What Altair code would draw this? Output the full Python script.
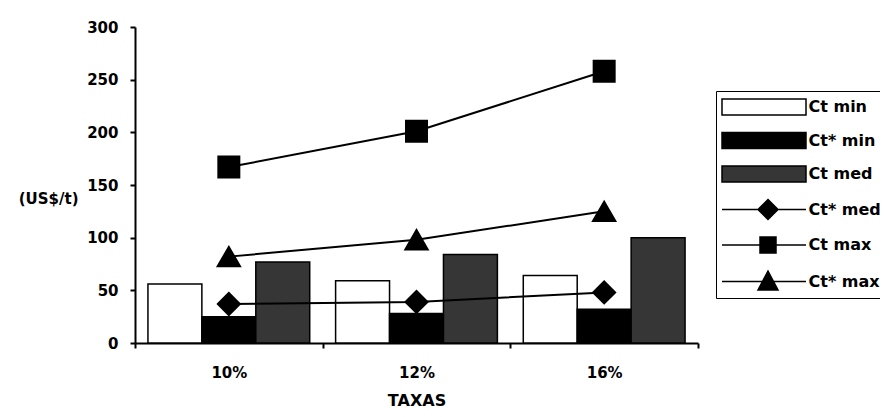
import altair as alt
import pandas as pd

categories = ["10%", "12%", "16%"]
bar_series = ["Ct min", "Ct* min", "Ct med"]
line_series = ["Ct* med", "Ct max", "Ct* max"]

ct_min = [56, 59, 64]
ctx_min = [25, 28, 32]
ct_med = [77, 84, 100]
ctx_med = [37, 39, 48]
ct_max = [167, 201, 258]
ctx_max = [82, 98, 125]

y_ticks = [0, 50, 100, 150, 200, 250, 300]

series_order = bar_series + line_series
fills = ["white", "black", "#363636", "black", "black", "black"]
marker_shapes = ["diamond", "square", "triangle-up"]
marker_sizes = [484, 441, 500]
legend_paths = [
    "M-1,-0.8H7.4V0.8H-1Z",
    "M-1,-0.8H7.4V0.8H-1Z",
    "M-1,-0.8H7.4V0.8H-1Z",
    "M-1,0H7.4M3.6,-1L4.6,0L3.6,1L2.6,0Z",
    "M-1,0H7.4M2.8,-0.8H4.4V0.8H2.8Z",
    "M-1,0H7.4M3.6,-1.05L4.6,0.85H2.6Z",
]

FONT = "DejaVu Sans"

bar_vals = {"Ct min": ct_min, "Ct* min": ctx_min, "Ct med": ct_med}
line_vals = {"Ct* med": ctx_med, "Ct max": ct_max, "Ct* max": ctx_max}

bar_rows = []
for s, vals in bar_vals.items():
    for c, v in zip(categories, vals):
        bar_rows.append({"cat": c, "series": s, "value": v,
                         "fill": fills[series_order.index(s)]})
bar_df = pd.DataFrame(bar_rows)

line_rows = []
for s, vals in line_vals.items():
    for c, v in zip(categories, vals):
        line_rows.append({"cat": c, "series": s, "value": v})
line_df = pd.DataFrame(line_rows)

legend_df = pd.DataFrame({"series": series_order})

x_axis = alt.Axis(
    title="TAXAS", labelAngle=0, tickBand="extent", titleY=57,
    titleBaseline="middle", labelPadding=17, domainColor="black",
    domainWidth=2, tickColor="black", tickWidth=2, tickSize=5,
    labelFont=FONT, labelFontSize=15, labelFontWeight="bold",
    labelColor="black", titleFont=FONT, titleFontSize=16,
    titleFontWeight="bold", titleColor="black", grid=False,
)
y_axis = alt.Axis(
    values=y_ticks, title="(US$/t)", titleAngle=0, titleAlign="right",
    titleX=-57, titleY=171, titleBaseline="middle", grid=False,
    domainColor="black", domainWidth=2, tickColor="black", tickWidth=2,
    tickSize=5, labelPadding=12, labelFont=FONT, labelFontSize=15,
    labelFontWeight="bold", labelColor="black", titleFont=FONT,
    titleFontSize=15, titleFontWeight="bold", titleColor="black",
)

x_enc = alt.X("cat:N", sort=categories,
              scale=alt.Scale(paddingInner=0, paddingOuter=0), axis=x_axis)
y_enc = alt.Y("value:Q", scale=alt.Scale(domain=[0, 300]), axis=y_axis)

bars = alt.Chart(bar_df).mark_bar(stroke="black", strokeWidth=1.5).encode(
    x=x_enc,
    xOffset=alt.XOffset("series:N", sort=bar_series,
                        scale=alt.Scale(paddingInner=0, paddingOuter=0.24)),
    y=y_enc,
    fill=alt.Fill("fill:N", scale=None),
)

layers = [bars]
for s, shp, sz in zip(line_series, marker_shapes, marker_sizes):
    base = alt.Chart(line_df).transform_filter(alt.datum.series == s)
    layers.append(base.mark_line(color="black", strokeWidth=2).encode(
        x=alt.X("cat:N", sort=categories), y=alt.Y("value:Q")))
    layers.append(base.mark_point(shape=shp, filled=True, fill="black",
                                  stroke="black", opacity=1, size=sz).encode(
        x=alt.X("cat:N", sort=categories), y=alt.Y("value:Q")))

leg = alt.Legend(
    title=None, orient="none", legendX=581, legendY=64, symbolSize=400,
    symbolStrokeWidth=1.5, symbolStrokeColor="black", symbolOpacity=1,
    labelOffset=65.5, rowPadding=11.5, padding=5, strokeColor="black",
    fillColor="white", labelFont=FONT, labelFontSize=16,
    labelFontWeight="bold", labelColor="black", labelLimit=0,
)

legend_layer = alt.Chart(legend_df).mark_point(
    filled=True, stroke="black", strokeWidth=1.5, opacity=1
).encode(
    fill=alt.Fill("series:N", sort=series_order,
                  scale=alt.Scale(domain=series_order, range=fills), legend=leg),
    shape=alt.Shape("series:N", sort=series_order,
                    scale=alt.Scale(domain=series_order, range=legend_paths),
                    legend=leg),
).transform_filter("false")

layers.append(legend_layer)

chart = alt.layer(*layers).properties(
    width=563, height=316,
    autosize=alt.AutoSizeParams(type="none"),
    padding={"left": 127, "top": 19, "right": 182, "bottom": 74},
    background="white",
).configure_view(stroke=None)

chart.save("out.html", embed_options={"renderer": "svg", "actions": False})
